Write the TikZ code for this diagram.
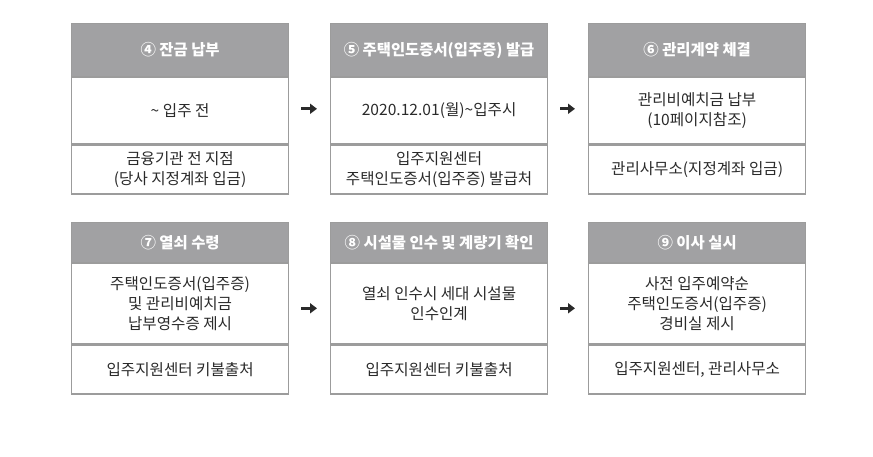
\documentclass[tikz,border=0pt]{standalone}
\usepackage{fontspec}
\setmainfont{Noto Sans CJK KR}
\usetikzlibrary{arrows.meta, calc}

\definecolor{headgray}{HTML}{A1A1A3}
\definecolor{linegray}{HTML}{9C9C9C}
\definecolor{textgray}{HTML}{2A2A2A}

\begin{document}
\begin{tikzpicture}[x=1pt, y=-1pt,
    box/.style={draw=linegray, line width=1.2pt, anchor=north west,
        minimum width=217pt, inner sep=0pt, align=center,
        font=\fontsize{15.6}{20}\selectfont, text=textgray},
    headbox/.style={box, fill=headgray, text=white,
        font=\fontsize{15.4}{20}\selectfont\bfseries},
    stepto/.style={-{Triangle[length=7pt, width=10pt]}, line width=2.6pt, textgray,
        shorten <=12pt, shorten >=13pt}]

    % page frame
    \useasboundingbox (0,0) rectangle (873,457);

    % Top row
    % step 4
    \node[headbox, minimum height=53pt] (head4) at (71,23) {④ 잔금 납부};
    \node[box, minimum height=66pt] (mid4) at (head4.south west) {\textasciitilde\ 입주 전};
    \node[box, minimum height=49pt] (foot4) at (mid4.south west) {금융기관 전 지점\\(당사 지정계좌 입금)};

    % step 5
    \node[headbox, minimum height=53pt] (head5) at (330,23) {⑤ 주택인도증서(입주증) 발급};
    \node[box, minimum height=66pt] (mid5) at (head5.south west) {2020.12.01(월)\textasciitilde 입주시};
    \node[box, minimum height=49pt] (foot5) at (mid5.south west) {입주지원센터\\주택인도증서(입주증) 발급처};

    % step 6
    \node[headbox, minimum height=53pt] (head6) at (588,23) {⑥ 관리계약 체결};
    \node[box, minimum height=66pt] (mid6) at (head6.south west) {관리비예치금 납부\\(10페이지참조)};
    \node[box, minimum height=49pt] (foot6) at (mid6.south west) {관리사무소(지정계좌 입금)};

    % Bottom row
    % step 7
    \node[headbox, minimum height=40pt] (head7) at (71,222) {⑦ 열쇠 수령};
    \node[box, minimum height=80pt] (mid7) at (head7.south west) {주택인도증서(입주증)\\및 관리비예치금\\납부영수증 제시};
    \node[box, minimum height=49pt] (foot7) at (mid7.south west) {입주지원센터 키불출처};

    % step 8
    \node[headbox, minimum height=40pt] (head8) at (330,222) {⑧ 시설물 인수 및 계량기 확인};
    \node[box, minimum height=80pt] (mid8) at (head8.south west) {열쇠 인수시 세대 시설물\\인수인계};
    \node[box, minimum height=49pt] (foot8) at (mid8.south west) {입주지원센터 키불출처};

    % step 9
    \node[headbox, minimum height=40pt] (head9) at (588,222) {⑨ 이사 실시};
    \node[box, minimum height=80pt] (mid9) at (head9.south west) {사전 입주예약순\\주택인도증서(입주증)\\경비실 제시};
    \node[box, minimum height=49pt] (foot9) at (mid9.south west) {입주지원센터, 관리사무소};

    % Arrows between steps, at half height of each card
    \draw[stepto] ($(head4.north east)!0.5!(foot4.south east)$) -- ($(head5.north west)!0.5!(foot5.south west)$);
    \draw[stepto] ($(head5.north east)!0.5!(foot5.south east)$) -- ($(head6.north west)!0.5!(foot6.south west)$);
    \draw[stepto] ($(head7.north east)!0.5!(foot7.south east)$) -- ($(head8.north west)!0.5!(foot8.south west)$);
    \draw[stepto] ($(head8.north east)!0.5!(foot8.south east)$) -- ($(head9.north west)!0.5!(foot9.south west)$);

\end{tikzpicture}
\end{document}
